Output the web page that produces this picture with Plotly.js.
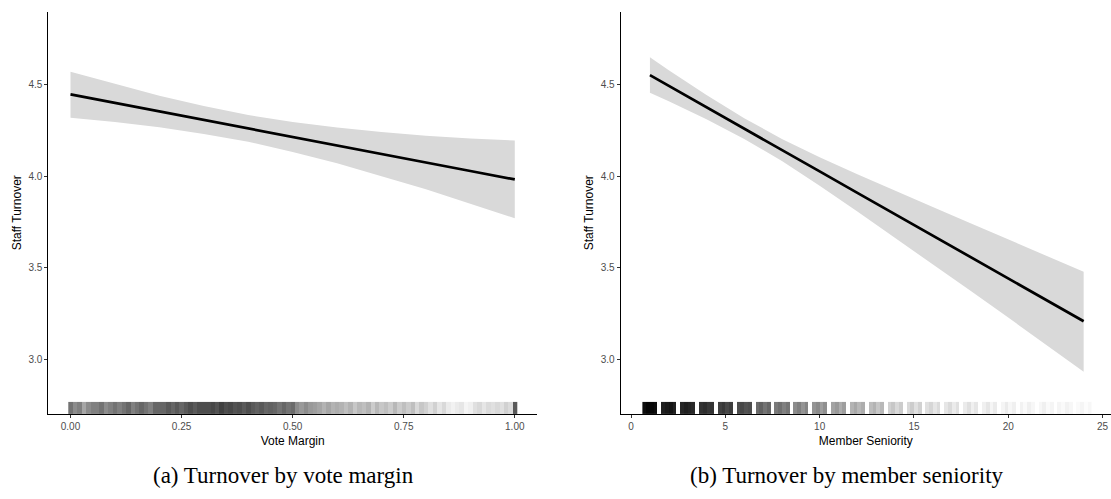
<!DOCTYPE html>
<html>
<head>
<meta charset="utf-8">
<script src="https://cdn.plot.ly/plotly-3.0.1.min.js"></script>
<style>
  html, body { margin: 0; padding: 0; background: #ffffff; }
  #chart { width: 1111px; height: 499px; }
</style>
</head>
<body>
<div id="chart"></div>
<script>
// ---- Panel (a): predicted staff turnover by vote margin ----
const marginX     = [0.0, 0.1, 0.2, 0.3, 0.4, 0.5, 0.6, 0.7, 0.8, 0.9, 1.0];
const marginFit   = [4.447, 4.400, 4.354, 4.307, 4.261, 4.214, 4.168, 4.121, 4.075, 4.028, 3.982];
const marginUpper = [4.571, 4.504, 4.440, 4.383, 4.334, 4.296, 4.266, 4.242, 4.221, 4.206, 4.195];
const marginLower = [4.319, 4.296, 4.268, 4.231, 4.188, 4.132, 4.070, 4.000, 3.929, 3.850, 3.770];

// rug of observed vote margins: bin centres and shading (0 = none, 1 = solid)
const marginRugX = [
  0.00, 0.01, 0.02, 0.03, 0.04, 0.05, 0.06, 0.07, 0.08, 0.09,
  0.10, 0.11, 0.12, 0.13, 0.14, 0.15, 0.16, 0.17, 0.18, 0.19,
  0.20, 0.21, 0.22, 0.23, 0.24, 0.25, 0.26, 0.27, 0.28, 0.29,
  0.30, 0.31, 0.32, 0.33, 0.34, 0.35, 0.36, 0.37, 0.38, 0.39,
  0.40, 0.41, 0.42, 0.43, 0.44, 0.45, 0.46, 0.47, 0.48, 0.49,
  0.50, 0.51, 0.52, 0.53, 0.54, 0.55, 0.56, 0.57, 0.58, 0.59,
  0.60, 0.61, 0.62, 0.63, 0.64, 0.65, 0.66, 0.67, 0.68, 0.69,
  0.70, 0.71, 0.72, 0.73, 0.74, 0.75, 0.76, 0.77, 0.78, 0.79,
  0.80, 0.81, 0.82, 0.83, 0.84, 0.85, 0.86, 0.87, 0.88, 0.89,
  0.90, 0.91, 0.92, 0.93, 0.94, 0.95, 0.96, 0.97, 0.98, 0.99,
  1.00
];
const marginRugShade = [
  0.55, 0.45, 0.50, 0.35, 0.45, 0.50, 0.50, 0.55, 0.45, 0.50,
  0.55, 0.50, 0.55, 0.60, 0.50, 0.55, 0.60, 0.55, 0.50, 0.60,
  0.60, 0.60, 0.65, 0.60, 0.65, 0.60, 0.65, 0.70, 0.65, 0.70,
  0.70, 0.70, 0.72, 0.68, 0.75, 0.70, 0.72, 0.68, 0.70, 0.65,
  0.70, 0.65, 0.62, 0.65, 0.60, 0.62, 0.60, 0.55, 0.60, 0.55,
  0.58, 0.45, 0.40, 0.45, 0.40, 0.38, 0.35, 0.30, 0.35, 0.30,
  0.32, 0.30, 0.25, 0.30, 0.22, 0.28, 0.25, 0.30, 0.20, 0.28,
  0.22, 0.25, 0.20, 0.28, 0.20, 0.25, 0.20, 0.25, 0.15, 0.22,
  0.18, 0.12, 0.18, 0.10, 0.15, 0.08, 0.05, 0.08, 0.10, 0.04,
  0.06, 0.12, 0.15, 0.10, 0.14, 0.12, 0.15, 0.12, 0.18, 0.14,
  0.65
];

// ---- Panel (b): predicted staff turnover by member seniority ----
const seniorityX     = [1, 2, 4, 6, 8, 10, 12, 14, 16, 18, 20, 22, 24];
const seniorityFit   = [4.552, 4.494, 4.377, 4.260, 4.143, 4.026, 3.909, 3.792, 3.675, 3.558, 3.441, 3.324, 3.207];
const seniorityUpper = [4.650, 4.579, 4.443, 4.317, 4.203, 4.104, 4.011, 3.920, 3.832, 3.743, 3.655, 3.567, 3.477];
const seniorityLower = [4.456, 4.409, 4.311, 4.203, 4.083, 3.948, 3.807, 3.664, 3.518, 3.373, 3.227, 3.081, 2.931];

// rug of observed seniority (terms served): one block per level, four shade strips each
const seniorityLevels = [1, 2, 3, 4, 5, 6, 7, 8, 9, 10, 11, 12, 13, 14, 15, 16, 17, 18, 19, 20, 21, 22, 23, 24];
const seniorityRugShade = [
  [0.95, 0.98, 0.97, 0.95], [0.88, 0.90, 0.92, 0.88], [0.85, 0.88, 0.86, 0.84], [0.80, 0.82, 0.78, 0.80],
  [0.75, 0.78, 0.72, 0.76], [0.70, 0.72, 0.68, 0.70], [0.58, 0.62, 0.55, 0.60], [0.52, 0.56, 0.50, 0.54],
  [0.45, 0.50, 0.42, 0.48], [0.42, 0.46, 0.38, 0.44], [0.36, 0.40, 0.32, 0.38], [0.30, 0.34, 0.28, 0.32],
  [0.26, 0.30, 0.22, 0.28], [0.18, 0.22, 0.15, 0.20], [0.15, 0.20, 0.12, 0.18], [0.12, 0.16, 0.10, 0.14],
  [0.10, 0.14, 0.08, 0.12], [0.08, 0.12, 0.06, 0.10], [0.06, 0.10, 0.04, 0.08], [0.04, 0.08, 0.03, 0.06],
  [0.05, 0.02, 0.06, 0.03], [0.03, 0.06, 0.02, 0.04], [0.04, 0.02, 0.05, 0.03], [0.02, 0.04, 0.01, 0.03]
];

// ---- shared settings ----
const yRange = [2.7, 4.9];
const rugTop = yRange[0] + 0.03 * (yRange[1] - yRange[0]);
const bandColor = '#d9d9d9';
const greyScale = [[0, '#ffffff'], [1, '#000000']];

function ribbon(x, lo, hi, xa, ya) {
  return {
    x: x.concat(x.slice().reverse()),
    y: hi.concat(lo.slice().reverse()),
    xaxis: xa, yaxis: ya,
    type: 'scatter', mode: 'lines', fill: 'toself',
    fillcolor: bandColor, line: { width: 0 }, hoverinfo: 'skip'
  };
}
function fitLine(x, y, xa, ya) {
  return {
    x: x, y: y, xaxis: xa, yaxis: ya,
    type: 'scatter', mode: 'lines',
    line: { color: '#000000', width: 2.7 }
  };
}

// seniority rug cells: four strips per level then an empty gap to the next level
const senEdges = [];
const senZ = [];
seniorityLevels.forEach((lv, i) => {
  const q = [-0.4, -0.2, 0, 0.2];
  q.forEach((o, j) => { senEdges.push(lv + o); senZ.push(seniorityRugShade[i][j]); });
  if (i < seniorityLevels.length - 1) { senEdges.push(lv + 0.4); senZ.push(null); }
  else { senEdges.push(lv + 0.4); }
});

const traces = [
  ribbon(marginX, marginLower, marginUpper, 'x', 'y'),
  fitLine(marginX, marginFit, 'x', 'y'),
  {
    type: 'heatmap', x: marginRugX, y: [yRange[0], rugTop], z: [marginRugShade],
    xaxis: 'x', yaxis: 'y', colorscale: greyScale, zmin: 0, zmax: 1,
    showscale: false, zsmooth: false, hoverinfo: 'skip'
  },
  ribbon(seniorityX, seniorityLower, seniorityUpper, 'x2', 'y2'),
  fitLine(seniorityX, seniorityFit, 'x2', 'y2'),
  {
    type: 'heatmap', x: senEdges, y: [yRange[0], rugTop], z: [senZ],
    xaxis: 'x2', yaxis: 'y2', colorscale: greyScale, zmin: 0, zmax: 1,
    showscale: false, zsmooth: false, hoverinfo: 'skip'
  }
];

const tickFont = { family: 'Liberation Sans, Arial, sans-serif', size: 10, color: '#4d4d4d' };
const titleFont = { family: 'Liberation Sans, Arial, sans-serif', size: 12, color: '#000000' };
const W = 1111, H = 499;

function xAxis(domain, range, dtick, fmt, title, anchor) {
  return {
    domain: domain, range: range, dtick: dtick, tick0: 0, tickformat: fmt,
    anchor: anchor, showgrid: false, zeroline: false,
    showline: true, linecolor: '#000000', linewidth: 1,
    ticks: 'outside', ticklen: 3, tickwidth: 1, tickcolor: '#333333',
    tickfont: tickFont, fixedrange: true,
    title: { text: title, font: titleFont, standoff: 5 }
  };
}
function yAxis(anchor) {
  return {
    domain: [(H - 414) / H, (H - 11.5) / H], range: yRange, dtick: 0.5, tick0: 0, tickformat: '.1f',
    anchor: anchor, showgrid: false, zeroline: false,
    showline: true, linecolor: '#000000', linewidth: 1,
    ticks: 'outside', ticklen: 3, tickwidth: 1, tickcolor: '#333333',
    tickfont: tickFont, fixedrange: true,
    title: { text: 'Staff Turnover', font: titleFont, standoff: 4 }
  };
}

const captionFont = { family: 'Liberation Serif, Times New Roman, serif', size: 23, color: '#000000' };

const layout = {
  width: W, height: H,
  margin: { l: 0, r: 0, t: 0, b: 0 },
  paper_bgcolor: '#ffffff', plot_bgcolor: '#ffffff',
  showlegend: false,
  xaxis: xAxis([48.3 / W, 537 / W], [-0.05, 1.05], 0.25, '.2f', 'Vote Margin', 'y'),
  yaxis: yAxis('x'),
  xaxis2: xAxis([620.7 / W, 1], [-0.55, 25.45], 5, 'd', 'Member Seniority', 'y2'),
  yaxis2: yAxis('x2'),
  annotations: [
    {
      text: '(a) Turnover by vote margin', xref: 'paper', yref: 'paper',
      x: 283 / W, y: (H - 475) / H, xanchor: 'center', yanchor: 'middle', showarrow: false,
      font: captionFont
    },
    {
      text: '(b) Turnover by member seniority', xref: 'paper', yref: 'paper',
      x: 847 / W, y: (H - 475) / H, xanchor: 'center', yanchor: 'middle', showarrow: false,
      font: captionFont
    }
  ]
};

Plotly.newPlot('chart', traces, layout, { displayModeBar: false, staticPlot: true });
</script>
</body>
</html>
